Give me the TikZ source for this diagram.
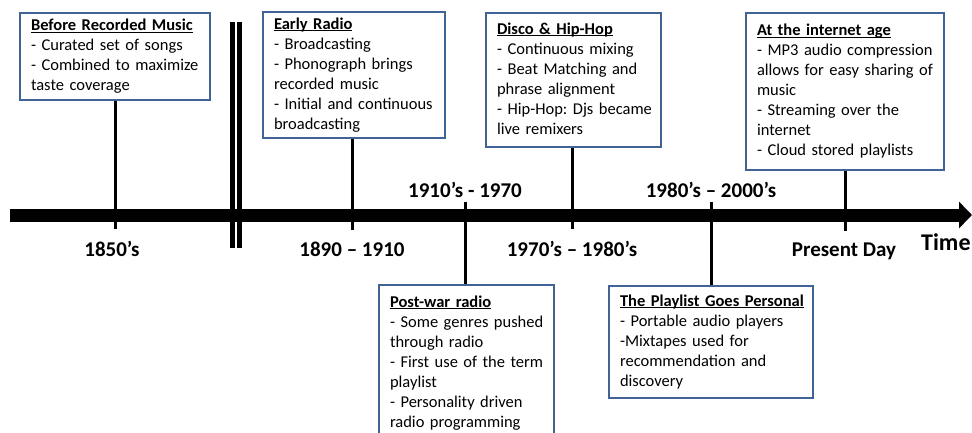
\documentclass[tikz,border=0pt]{standalone}
\usepackage{fontspec}
\setmainfont{Carlito}
\usetikzlibrary{arrows.meta}
\frenchspacing
\definecolor{boxblue}{RGB}{64,100,150}
\newcommand{\myul}[1]{\setbox0\hbox{#1}\rlap{\rule[-2.3pt]{\wd0}{1pt}}\box0}
\newcommand{\boxtext}[2]{\begin{tabular}{@{}l@{}}\myul{\textbf{#1}}\\#2\end{tabular}}
\tikzset{
  evbox/.style={draw=boxblue, line width=2pt, fill=white, anchor=north west,
    inner xsep=11pt, inner ysep=0pt, align=left,
    font=\fontsize{16.5}{20}\selectfont},
  ticline/.style={line width=3pt, black},
  datelbl/.style={anchor=base, inner sep=0pt, font=\fontsize{21}{25}\selectfont\bfseries},
}
\begin{document}
\begin{tikzpicture}[x=1pt,y=-1pt]
\useasboundingbox (0,0) rectangle (972,432);
\clip (0,0) rectangle (972,432);
% axis
\coordinate (axL) at (10,215);
\coordinate (axR) at (972,215);
\draw[line width=13pt, -{Triangle[length=13pt,width=26pt]}] (axL) -- (axR);
% double break bars
\coordinate (brA1) at (232.5,22);
\coordinate (brA2) at (232.5,248);
\coordinate (brB1) at (239.5,22);
\coordinate (brB2) at (239.5,248);
\draw[line width=4.5pt] (brA1) -- (brA2);
\draw[line width=4.5pt] (brB1) -- (brB2);
% boxes
\node[evbox, text width=168pt, minimum height=87pt] (b1) at (19,12)
  {\boxtext{Before Recorded Music}{- Curated set of songs\\- Combined to maximize\\taste coverage}};
\node[evbox, text width=160pt, minimum height=126pt] (b2) at (262,11)
  {\boxtext{Early Radio}{- Broadcasting\\- Phonograph brings\\recorded music\\- Initial and continuous\\broadcasting}};
\node[evbox, text width=153pt, minimum height=134pt] (b3) at (485,12)
  {\boxtext{Disco \& Hip-Hop}{- Continuous mixing\\- Beat Matching and\\phrase alignment\\- Hip-Hop: Djs became\\live remixers}};
\node[evbox, text width=176pt, minimum height=157pt] (b4) at (745,12)
  {\boxtext{At the internet age}{- MP3 audio compression\\allows for easy sharing of\\music\\- Streaming over the\\internet\\- Cloud stored playlists}};
\node[evbox, text width=153pt, minimum height=156pt] (b5) at (378,284)
  {\boxtext{Post-war radio}{- Some genres pushed\\through radio\\- First use of the term\\playlist\\- Personality driven\\radio programming}};
\node[evbox, text width=182pt, minimum height=112pt] (b6) at (608,285)
  {\boxtext{The Playlist Goes Personal}{- Portable audio players\\-Mixtapes used for\\recommendation and\\discovery}};
% tick end points
\coordinate (t1) at (114,229);
\coordinate (t2) at (352,230);
\coordinate (t3) at (572,229);
\coordinate (t4) at (845,231);
\coordinate (t5) at (465,202);
\coordinate (t6) at (711,202);
\draw[ticline] (b1.south) -- (b1.south |- t1);
\draw[ticline] (b2.south -| t2) -- (t2);
\draw[ticline] (b3.south -| t3) -- (t3);
\draw[ticline] (b4.south -| t4) -- (t4);
\draw[ticline] (t5) -- (b5.north -| t5);
\draw[ticline] (t6) -- (b6.north -| t6);
% date labels
\node[datelbl] (l1) at (112,256) {1850’s};
\node[datelbl] (l2) at (352,256) {1890 – 1910};
\node[datelbl] (l3) at (572,256) {1970’s – 1980’s};
\node[datelbl] (l4) at (844,256) {Present Day};
\node[datelbl] (l5) at (465,197) {1910’s - 1970};
\node[datelbl] (l6) at (711,197) {1980’s – 2000’s};
\node[anchor=base west, inner sep=0pt, font=\fontsize{24}{28}\selectfont\bfseries] (time) at (921,250) {Time};
\end{tikzpicture}
\end{document}
